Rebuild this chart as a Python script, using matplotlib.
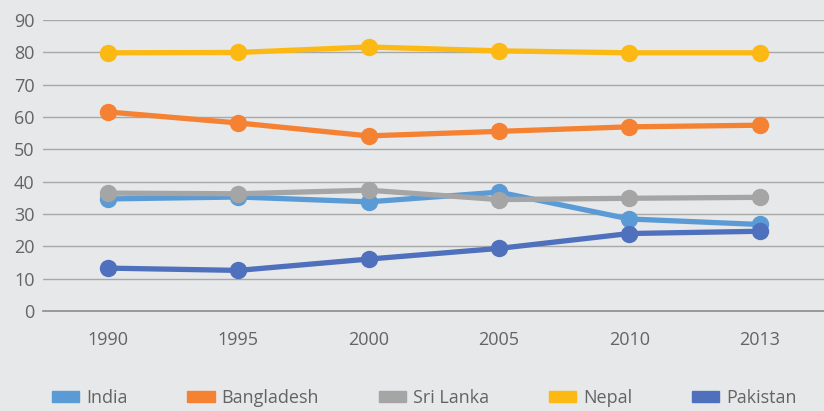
import matplotlib.pyplot as plt
from matplotlib.patches import Patch

years = ['1990', '1995', '2000', '2005', '2010', '2013']
india = [34.7, 35.3, 33.8, 36.8, 28.5, 26.8]
bangladesh = [61.6, 58.2, 54.2, 55.6, 57.0, 57.5]
sri_lanka = [36.5, 36.3, 37.4, 34.5, 34.9, 35.2]
nepal = [79.9, 80.0, 81.7, 80.5, 79.9, 79.9]
pakistan = [13.3, 12.6, 16.1, 19.4, 24.0, 24.7]

names = ['India', 'Bangladesh', 'Sri Lanka', 'Nepal', 'Pakistan']
series = [india, bangladesh, sri_lanka, nepal, pakistan]
colors = ['#5B9BD5', '#F58233', '#A5A5A5', '#FDB913', '#4F70BC']

bg = '#E7E8EA'
txt = '#646464'
plt.rcParams['font.family'] = ['Open Sans', 'DejaVu Sans']

fig = plt.figure(figsize=(8.24, 4.11), dpi=100, facecolor=bg)
ax = fig.add_axes([0.052, 0.243, 0.949, 0.708])
ax.set_facecolor(bg)

x = range(len(years))
for vals, c in zip(series, colors):
    ax.plot(x, vals, color=c, lw=3.8, marker='o', ms=11.5, solid_capstyle='round')

ax.set_xlim(-0.5, len(years) - 0.5)
ax.set_ylim(0, 90)
ax.set_yticks(range(0, 91, 10))
ax.set_xticks(list(x))
ax.set_xticklabels(years)
ax.grid(axis='y', color='#A8A8A8', lw=1)
ax.set_axisbelow(True)
for s in ['top', 'right', 'left']:
    ax.spines[s].set_visible(False)
ax.spines['bottom'].set_color('#8C8C8C')
ax.spines['bottom'].set_linewidth(1.2)
ax.tick_params(length=0, labelsize=13, colors=txt)
ax.tick_params(axis='x', pad=14)
ax.tick_params(axis='y', pad=6)

handles = [Patch(color=c, label=n) for n, c in zip(names, colors)]
fig.legend(handles=handles, loc='lower center', bbox_to_anchor=(0.515, -0.03), ncol=5,
           frameon=False, fontsize=13, labelcolor=txt, handlelength=1.5, handleheight=0.6,
           columnspacing=3.3, handletextpad=0.4)

fig.savefig('out.png', dpi=100, facecolor=bg)
